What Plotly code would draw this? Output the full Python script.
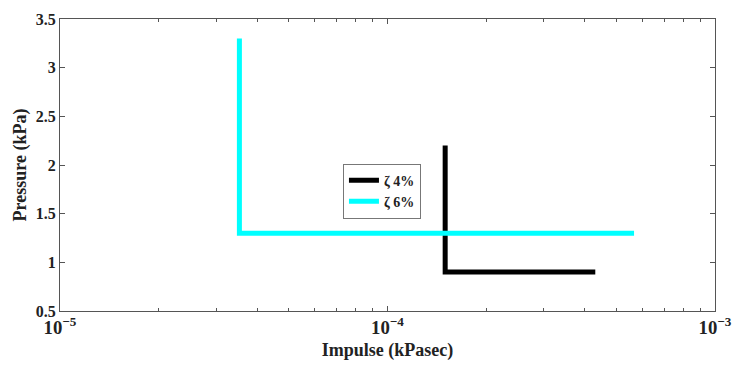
import plotly.graph_objects as go

# Data
zeta4_impulse = [1.50e-4, 1.50e-4, 4.31e-4]
zeta4_pressure = [2.2, 0.9, 0.9]
zeta6_impulse = [3.53e-5, 3.53e-5, 5.66e-4]
zeta6_pressure = [3.3, 1.3, 1.3]
series_names = ["ζ 4%", "ζ 6%"]
y_ticks = [0.5, 1, 1.5, 2, 2.5, 3, 3.5]
y_tick_labels = ["0.5", "1", "1.5", "2", "2.5", "3", "3.5"]

font_family = "Liberation Serif"

fig = go.Figure()
fig.add_trace(go.Scatter(x=zeta4_impulse, y=zeta4_pressure, mode="lines",
                         name=series_names[0], line=dict(color="black", width=5)))
fig.add_trace(go.Scatter(x=zeta6_impulse, y=zeta6_pressure, mode="lines",
                         name=series_names[1], line=dict(color="#00FFFF", width=5)))

fig.update_layout(
    width=733, height=370,
    margin=dict(l=60, r=18, t=11, b=59),
    paper_bgcolor="white", plot_bgcolor="white",
    font=dict(family=font_family, size=16, color="#222", weight="bold"),
    showlegend=True,
    legend=dict(x=0.432, y=0.505, xanchor="left", yanchor="top",
                bgcolor="white", bordercolor="#777", borderwidth=1,
                font=dict(size=14, family=font_family, weight="bold", color="#222"),
                itemwidth=30, tracegroupgap=0),
)
fig.update_xaxes(
    type="log", range=[-5, -3], dtick=1, exponentformat="power",
    ticklabeloverflow="allow", automargin=False,
    showline=True, linecolor="#555", linewidth=1, mirror="ticks",
    ticks="inside", ticklen=5, tickcolor="#555",
    minor=dict(ticks="inside", ticklen=3, tickcolor="#555", showgrid=False),
    showgrid=False, zeroline=False,
    title=dict(text="Impulse (kPasec)", standoff=6, font=dict(size=18, family=font_family, weight="bold")),
    tickfont=dict(size=15, family=font_family, weight="bold"),
)
fig.update_yaxes(
    range=[0.5, 3.5], tickvals=y_ticks, ticktext=y_tick_labels,
    ticklabeloverflow="allow",
    showline=True, linecolor="#555", linewidth=1, mirror="ticks",
    ticks="inside", ticklen=5, tickcolor="#555",
    showgrid=False, zeroline=False,
    title=dict(text="Pressure (kPa)", standoff=4, font=dict(size=18, family=font_family, weight="bold")),
    tickfont=dict(size=16, family=font_family, weight="bold"),
)

fig.write_html("out.html")
